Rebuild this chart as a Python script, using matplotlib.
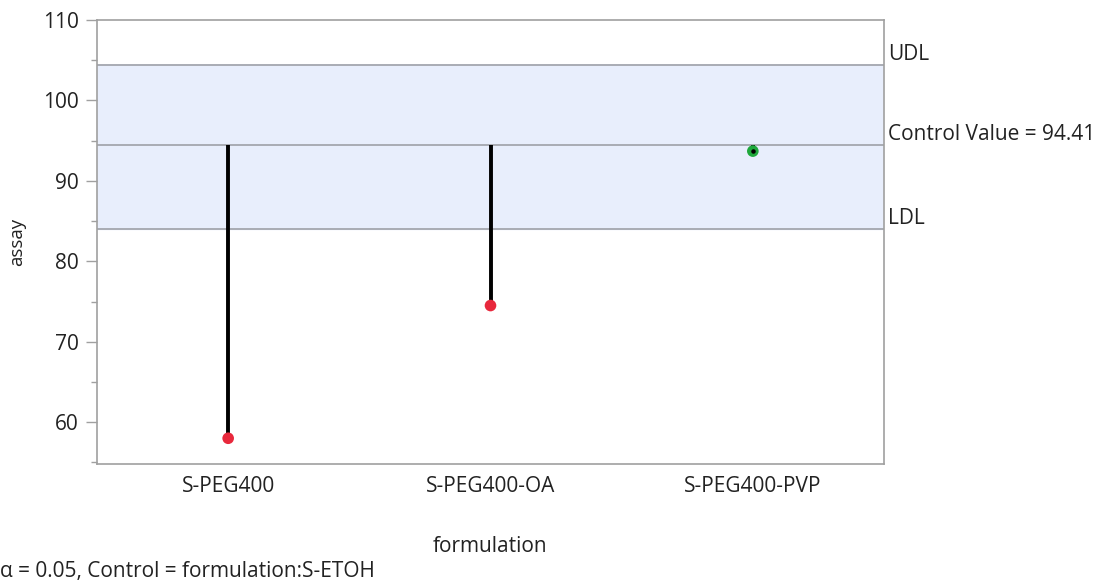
import matplotlib
matplotlib.use("Agg")
import matplotlib.pyplot as plt
import numpy as np

plt.rcParams["font.family"] = ["Open Sans", "DejaVu Sans"]

formulations = ["S-PEG400", "S-PEG400-OA", "S-PEG400-PVP"]
assay = [58.0, 74.5, 93.7]
control_value = 94.41
udl = 104.4
ldl = 84.05
alpha = 0.05
control_name = "S-ETOH"

GRID = "#a9acb4"
FRAME = "#a0a0a0"
TXT = "#222222"
FS = 15

fig = plt.figure(figsize=(11.03, 5.85), dpi=100)
ax = fig.add_axes([97 / 1103, 1 - 464 / 585, 787 / 1103, 444 / 585])

x = np.arange(len(formulations))
ax.axhspan(ldl, udl, color="#e8eefc", zorder=0)
for v in (udl, control_value, ldl):
    ax.axhline(v, color=GRID, lw=1.4, zorder=1)

# drop lines from the control mean to each group mean
for xi, yi in zip(x, assay):
    ax.plot([xi, xi], [control_value, yi], color="black", lw=2.8,
            solid_capstyle="butt", zorder=2)

colors = ["#e8283c" if (v < ldl or v > udl) else "#1fa83c" for v in assay]
ax.scatter(x, assay, s=70, c=colors, edgecolors="none", zorder=3)
ax.scatter(x[2:], assay[2:], s=5, c="black", zorder=4)

ax.set_xlim(-0.5, 2.5)
ax.set_ylim(54.8, 109.85)
ax.set_yticks(np.arange(60, 111, 10))
ax.set_yticks(np.arange(55, 110, 10), minor=True)
ax.set_xticks(x)
ax.set_xticklabels(formulations)
ax.tick_params(axis="x", length=0, pad=9, labelsize=FS, labelcolor=TXT)
ax.tick_params(axis="y", which="major", length=8, width=1, color=FRAME,
               pad=5, labelsize=FS, labelcolor=TXT)
ax.tick_params(axis="y", which="minor", length=4, width=1, color=FRAME)
for s in ax.spines.values():
    s.set_color(FRAME)
    s.set_linewidth(1.2)

ax.set_ylabel("assay", fontsize=13.5, color=TXT, labelpad=12)
ax.set_xlabel("formulation", fontsize=FS, color=TXT, labelpad=28)

for v, lab in ((udl, "UDL"), (control_value, f"Control Value = {control_value:.2f}"),
               (ldl, "LDL")):
    ax.annotate(lab, xy=(1, v), xycoords=("axes fraction", "data"),
                xytext=(3, 7.5), textcoords="offset points", va="center",
                fontsize=FS, color=TXT, annotation_clip=False)

fig.text(0, 1 - 572 / 585, f"α = {alpha:.2f}, Control = formulation:{control_name}",
         fontsize=FS, color=TXT, va="center", ha="left")

fig.savefig("out.png", dpi=100)
